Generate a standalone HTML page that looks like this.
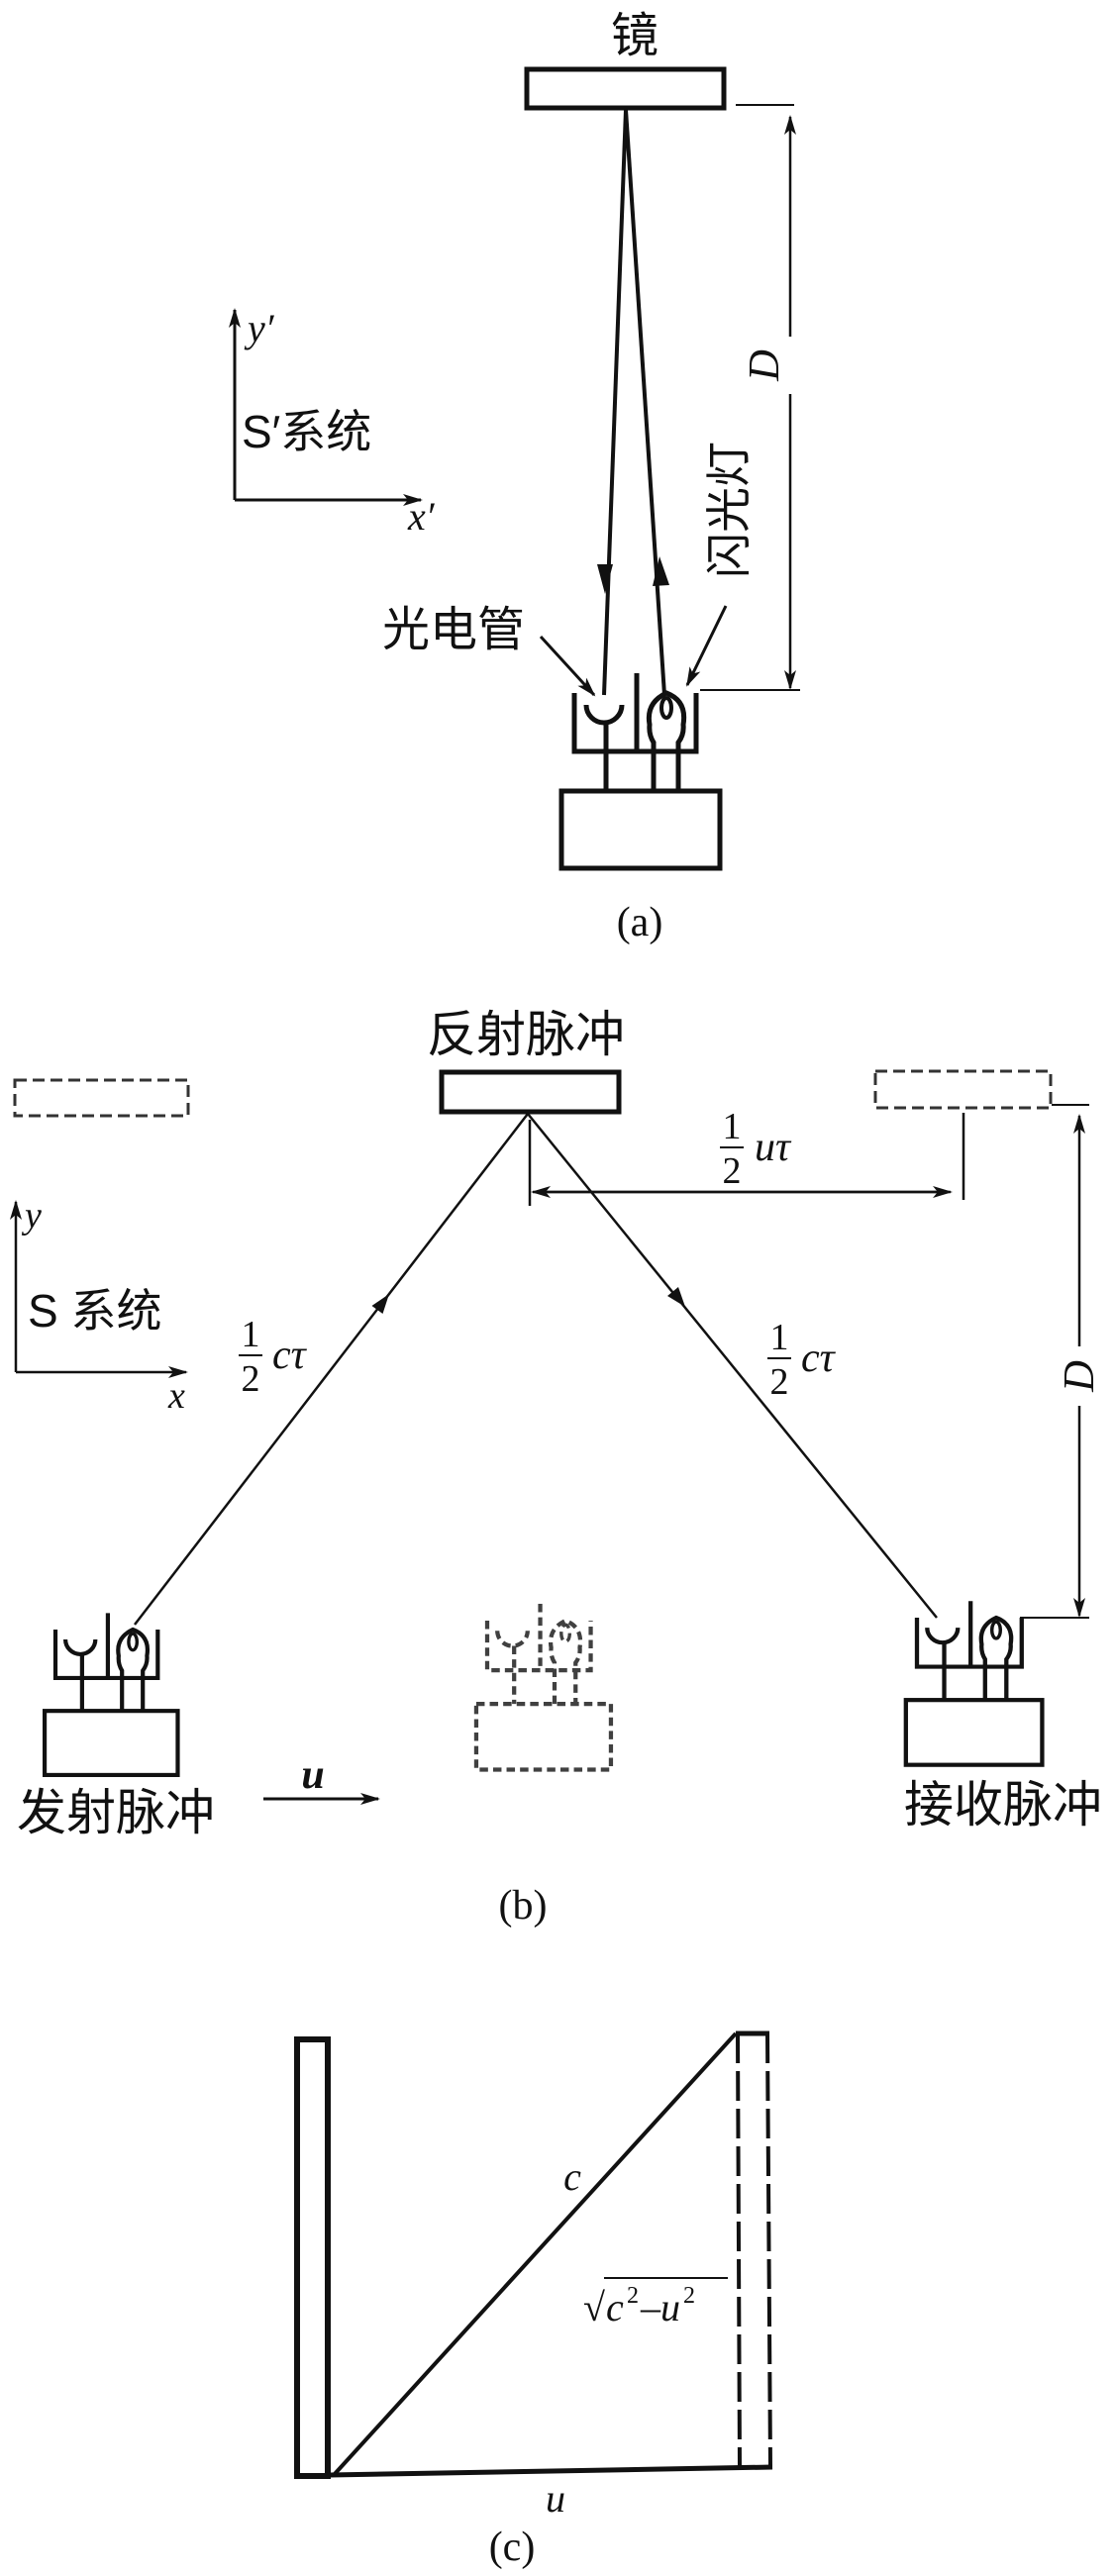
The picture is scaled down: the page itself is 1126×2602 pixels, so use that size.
<!DOCTYPE html>
<html><head><meta charset="utf-8"><style>
html,body{margin:0;padding:0;background:#fff}
svg{display:block}
text{font-family:"Liberation Serif","Noto Serif CJK SC",serif;fill:#111}
.cjk{font-family:"Liberation Sans","Noto Sans CJK SC",sans-serif}
</style></head><body>
<svg width="1126" height="2602" viewBox="0 0 1126 2602" xmlns="http://www.w3.org/2000/svg">
<defs>
<marker id="a2" viewBox="0 0 20 20" refX="18" refY="10" markerWidth="20" markerHeight="20" orient="auto" markerUnits="userSpaceOnUse"><path d="M0,4 L20,10 L0,16 L5,10 z" fill="#111"/></marker>
<g id="dev" fill="none" stroke="#111" stroke-width="5">
<path d="M0,0 V59 H123 V0"/>
<line x1="63" y1="-20" x2="63" y2="59"/>
<path d="M12,12 A18,18 0 0 0 48,12"/>
<line x1="32" y1="30" x2="32" y2="99"/>
<path d="M80,99 V50 Q75,42 76,32 Q72,10 93,0 Q114,8 110,32 Q111,42 105,50 V99"/>
<ellipse cx="93" cy="15" rx="5" ry="10" stroke-width="4"/>
<rect x="-13" y="99" width="160" height="78"/>
</g>
</defs>

<!-- Panel (a) -->
<text x="641" y="52" font-size="48" text-anchor="middle" class="cjk">镜</text>
<rect x="532" y="70" width="199" height="39" fill="none" stroke="#111" stroke-width="5"/>
<line x1="632" y1="111" x2="610" y2="702" stroke="#111" stroke-width="4"/>
<line x1="632" y1="111" x2="671" y2="702" stroke="#111" stroke-width="4"/>
<path d="M603,570 L611,600 L619,570 z" fill="#111"/>
<path d="M659,592 L666,562 L676,591 z" fill="#111"/>
<line x1="743" y1="106" x2="802" y2="106" stroke="#111" stroke-width="2"/>
<line x1="798" y1="340" x2="798" y2="118" stroke="#111" stroke-width="2.5" marker-end="url(#a2)"/>
<line x1="798" y1="398" x2="798" y2="695" stroke="#111" stroke-width="2.5" marker-end="url(#a2)"/>
<line x1="707" y1="697" x2="808" y2="697" stroke="#111" stroke-width="2"/>
<text x="0" y="0" font-size="44" font-style="italic" transform="translate(786,369) rotate(-90)" text-anchor="middle">D</text>
<text x="0" y="0" font-size="46" class="cjk" transform="translate(752,515) rotate(-90)" text-anchor="middle">闪光灯</text>
<line x1="733" y1="612" x2="694" y2="692" stroke="#111" stroke-width="3" marker-end="url(#a2)"/>
<text x="458" y="652" font-size="48" class="cjk" text-anchor="middle">光电管</text>
<line x1="546" y1="643" x2="600" y2="702" stroke="#111" stroke-width="3" marker-end="url(#a2)"/>
<use href="#dev" transform="translate(580,700)"/>
<text x="646" y="945" font-size="42" text-anchor="middle">(a)</text>
<line x1="237" y1="505" x2="237" y2="313" stroke="#111" stroke-width="3" marker-end="url(#a2)"/>
<line x1="237" y1="505" x2="425" y2="505" stroke="#111" stroke-width="3" marker-end="url(#a2)"/>
<text x="250" y="345" font-size="40" font-style="italic">y′</text>
<text x="412" y="535" font-size="40" font-style="italic">x′</text>
<text x="244" y="452" font-size="46" class="cjk">S′系统</text>

<!-- Panel (b) -->
<text x="531" y="1062" font-size="50" class="cjk" text-anchor="middle">反射脉冲</text>
<rect x="446" y="1083" width="179" height="40" fill="none" stroke="#111" stroke-width="5"/>
<rect x="15" y="1091" width="175" height="36" fill="none" stroke="#333" stroke-width="3" stroke-dasharray="12,6"/>
<rect x="884" y="1082" width="177" height="37" fill="none" stroke="#333" stroke-width="3" stroke-dasharray="12,6"/>
<line x1="533" y1="1125" x2="136" y2="1641" stroke="#111" stroke-width="2.5"/>
<line x1="533" y1="1125" x2="946" y2="1634" stroke="#111" stroke-width="2.5"/>
<path d="M393,1307 L386.5,1327 L375.5,1319 z" fill="#111"/>
<path d="M692,1320 L674,1309 L685,1300 z" fill="#111"/>
<line x1="535" y1="1131" x2="535" y2="1218" stroke="#111" stroke-width="2.5"/>
<line x1="973" y1="1124" x2="973" y2="1212" stroke="#111" stroke-width="2.5"/>
<line x1="552" y1="1204" x2="960" y2="1204" stroke="#111" stroke-width="2.5" marker-end="url(#a2)"/>
<line x1="950" y1="1204" x2="538" y2="1204" stroke="#111" stroke-width="2.5" marker-end="url(#a2)"/>
<text x="739" y="1150" font-size="38" text-anchor="middle">1</text>
<line x1="727" y1="1159" x2="751" y2="1159" stroke="#111" stroke-width="2"/>
<text x="739" y="1195" font-size="38" text-anchor="middle">2</text>
<text x="762" y="1172" font-size="42" font-style="italic">uτ</text>
<line x1="1062" y1="1116" x2="1100" y2="1116" stroke="#111" stroke-width="2"/>
<line x1="1090" y1="1360" x2="1090" y2="1127" stroke="#111" stroke-width="2.5" marker-end="url(#a2)"/>
<line x1="1090" y1="1420" x2="1090" y2="1632" stroke="#111" stroke-width="2.5" marker-end="url(#a2)"/>
<line x1="1030" y1="1634" x2="1100" y2="1634" stroke="#111" stroke-width="2"/>
<text x="0" y="0" font-size="44" font-style="italic" transform="translate(1104,1390) rotate(-90)" text-anchor="middle">D</text>
<line x1="16" y1="1386" x2="16" y2="1214" stroke="#111" stroke-width="2.5" marker-end="url(#a2)"/>
<line x1="16" y1="1386" x2="188" y2="1386" stroke="#111" stroke-width="2.5" marker-end="url(#a2)"/>
<text x="25" y="1240" font-size="38" font-style="italic">y</text>
<text x="170" y="1422" font-size="38" font-style="italic">x</text>
<text x="28" y="1340" font-size="46" class="cjk">S 系统</text>
<text x="253" y="1360" font-size="38" text-anchor="middle">1</text>
<line x1="241" y1="1369" x2="265" y2="1369" stroke="#111" stroke-width="2"/>
<text x="253" y="1405" font-size="38" text-anchor="middle">2</text>
<text x="275" y="1382" font-size="42" font-style="italic">cτ</text>
<text x="787" y="1363" font-size="38" text-anchor="middle">1</text>
<line x1="775" y1="1372" x2="799" y2="1372" stroke="#111" stroke-width="2"/>
<text x="787" y="1408" font-size="38" text-anchor="middle">2</text>
<text x="809" y="1385" font-size="42" font-style="italic">cτ</text>
<use href="#dev" transform="translate(56,1646) scale(0.84,0.83)"/>
<g opacity="0.8"><use href="#dev" transform="translate(492,1637) scale(0.85,0.85)" style="stroke-dasharray:10,6"/></g>
<use href="#dev" transform="translate(926,1634) scale(0.86,0.84)"/>
<text x="117" y="1848" font-size="50" class="cjk" text-anchor="middle">发射脉冲</text>
<line x1="266" y1="1817" x2="382" y2="1817" stroke="#111" stroke-width="3" marker-end="url(#a2)"/>
<text x="316" y="1806" font-size="42" font-style="italic" font-weight="bold" text-anchor="middle">u</text>
<text x="1013" y="1840" font-size="50" class="cjk" text-anchor="middle">接收脉冲</text>
<text x="528" y="1938" font-size="42" text-anchor="middle">(b)</text>

<!-- Panel (c) -->
<rect x="300" y="2060" width="31" height="441" fill="none" stroke="#111" stroke-width="6"/>
<line x1="743" y1="2054" x2="777" y2="2054" stroke="#111" stroke-width="5"/>
<line x1="745" y1="2054" x2="747" y2="2493" stroke="#111" stroke-width="4" stroke-dasharray="30,8"/>
<line x1="775" y1="2054" x2="778" y2="2493" stroke="#111" stroke-width="4" stroke-dasharray="30,8"/>
<line x1="333" y1="2500" x2="780" y2="2492" stroke="#111" stroke-width="5"/>
<line x1="337" y1="2500" x2="743" y2="2054" stroke="#111" stroke-width="4"/>
<text x="578" y="2212" font-size="40" font-style="italic" text-anchor="middle">c</text>
<text x="589" y="2344" font-size="40">√</text>
<line x1="610" y1="2301" x2="735" y2="2301" stroke="#111" stroke-width="2"/>
<text x="612" y="2344" font-size="40" font-style="italic">c</text>
<text x="633" y="2326" font-size="24">2</text>
<text x="647" y="2344" font-size="40">–</text>
<text x="667" y="2344" font-size="40" font-style="italic">u</text>
<text x="690" y="2326" font-size="24">2</text>
<text x="561" y="2537" font-size="40" font-style="italic" text-anchor="middle">u</text>
<text x="517" y="2586" font-size="42" text-anchor="middle">(c)</text>
</svg>
</body></html>
